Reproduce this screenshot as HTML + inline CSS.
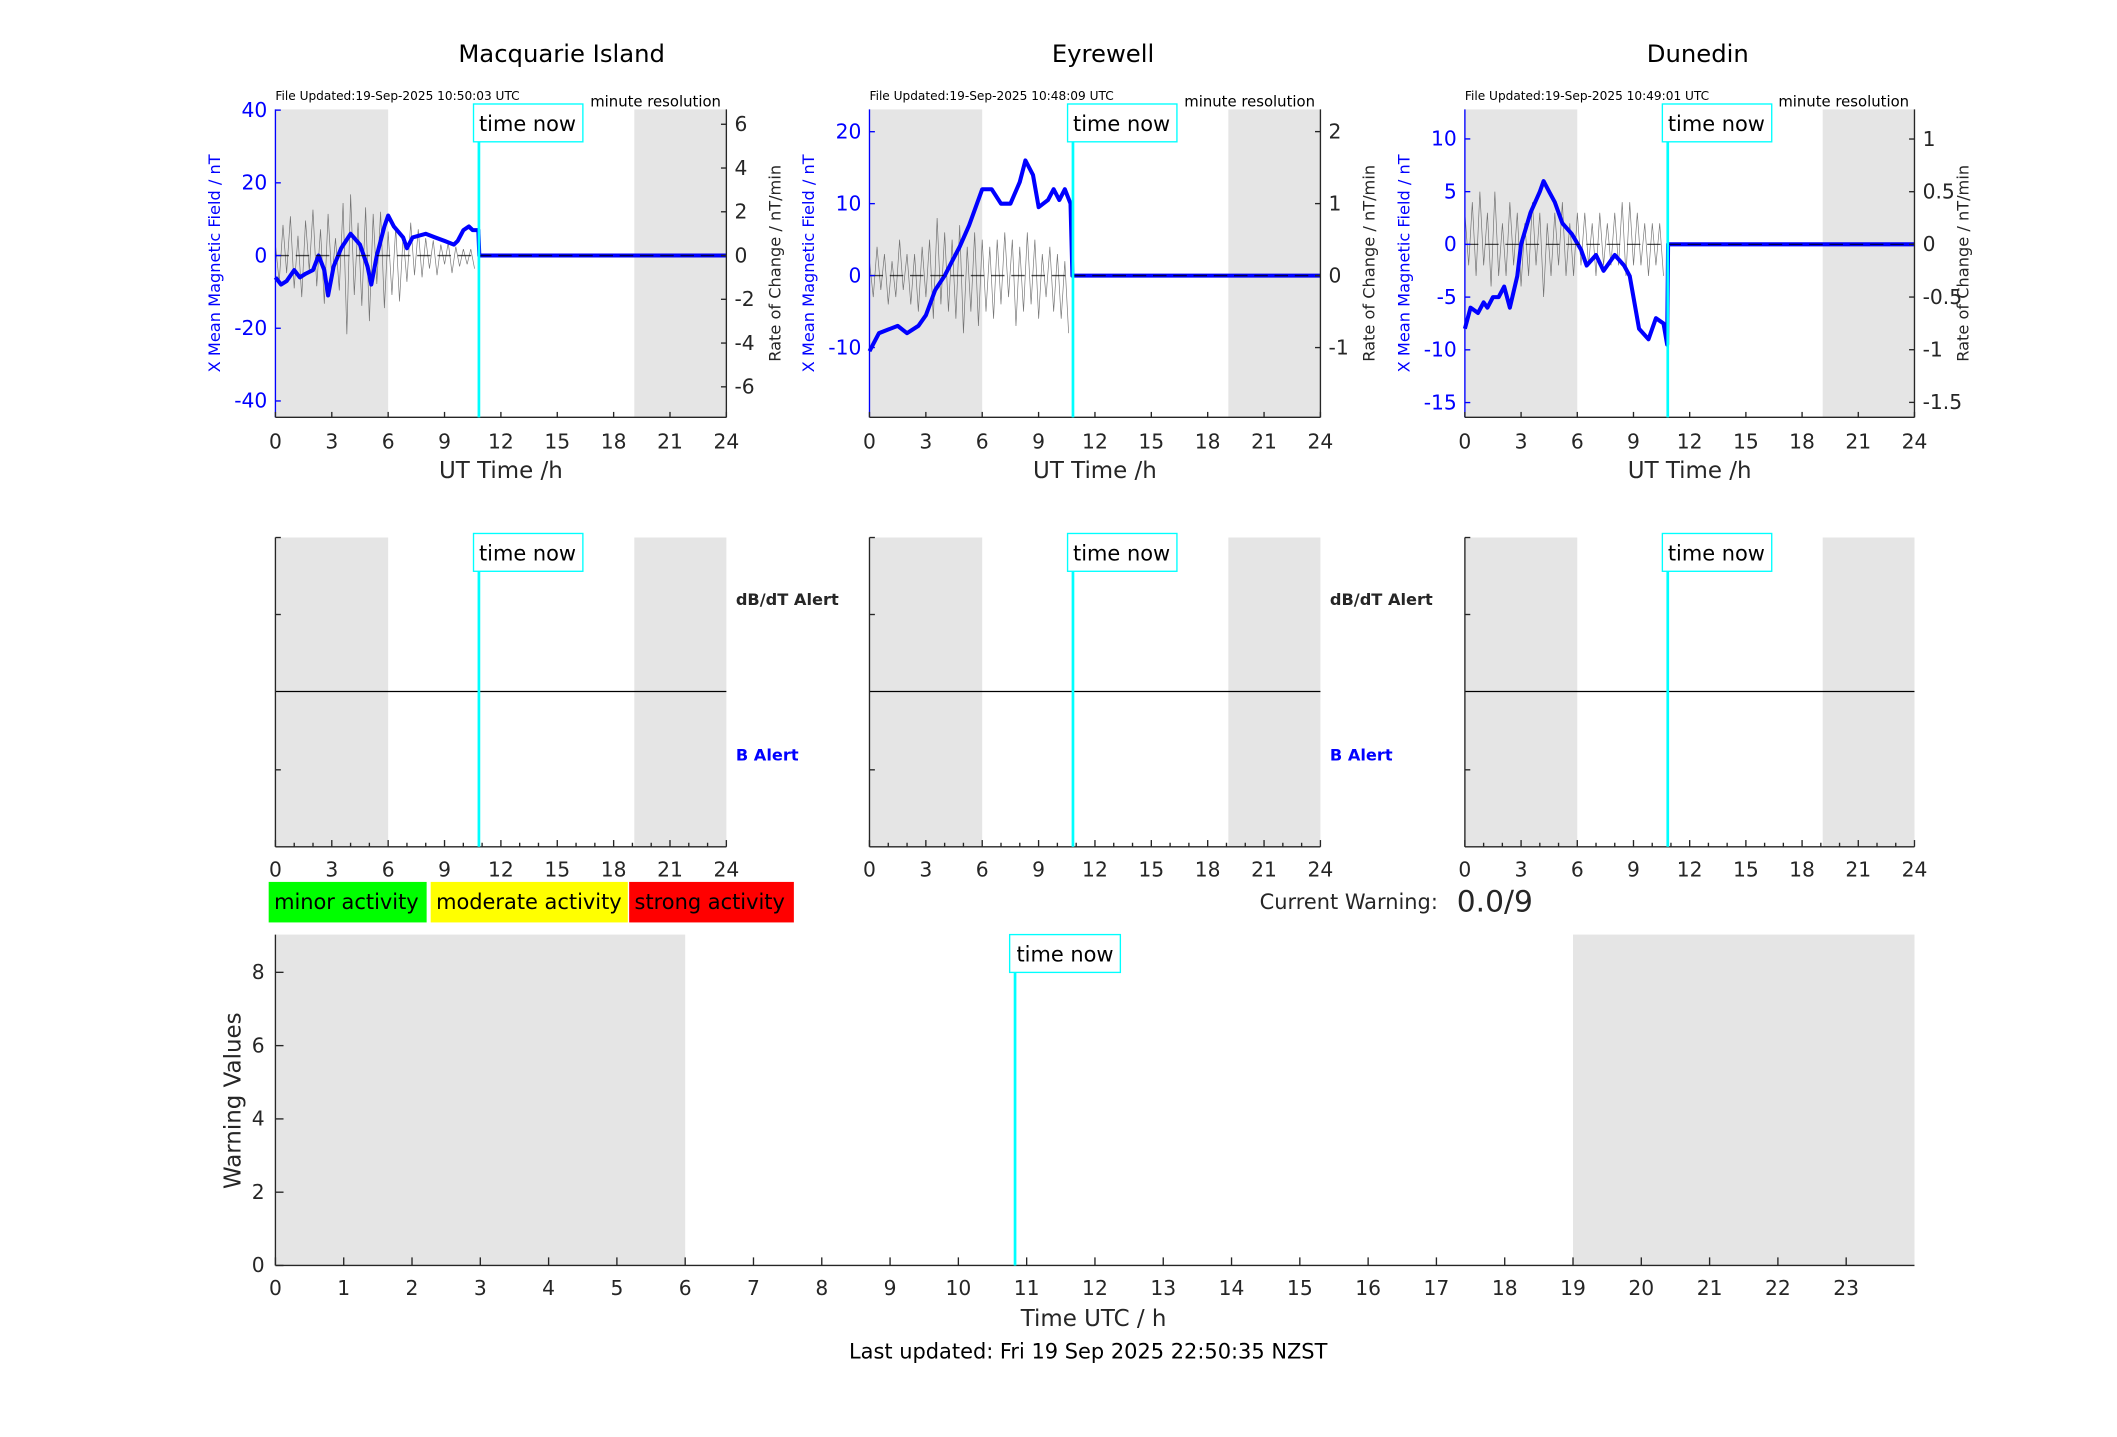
<!DOCTYPE html>
<html><head><meta charset="utf-8"><style>
html,body{margin:0;padding:0;background:#fff}
svg{display:block;font-family:"DejaVu Sans","Liberation Sans",sans-serif}
</style></head><body>
<svg id="chart" xmlns="http://www.w3.org/2000/svg" width="2117" height="1437" viewBox="0 0 1568 1064" preserveAspectRatio="none"></svg>
<script>
// ---------- DATA ----------
const stations = ["Macquarie Island", "Eyrewell", "Dunedin"];
const titleOffsets = [45, 6, 6];
const fileUpdated = ["File Updated:19-Sep-2025 10:50:03 UTC","File Updated:19-Sep-2025 10:48:09 UTC","File Updated:19-Sep-2025 10:49:01 UTC"];
const leftTicks1 = [40,20,0,-20,-40];
const rightTicks1 = [6,4,2,0,-2,-4,-6];
const leftTicks2 = [20,10,0,-10];
const rightTicks2 = [2,1,0,-1];
const leftTicks3 = [10,5,0,-5,-10,-15];
const rightTicks3 = [1,0.5,0,-0.5,-1,-1.5];
const xTicks = [0,3,6,9,12,15,18,21,24];
const bottomXTicks = [0,1,2,3,4,5,6,7,8,9,10,11,12,13,14,15,16,17,18,19,20,21,22,23];
const bottomYTicks = [0,2,4,6,8];
const timeNow = 10.83;
const nightEnd = 6, nightStart = 19.1;

const blueT1 = [0,0.3,0.6,1,1.3,1.6,2,2.3,2.6,2.8,3.1,3.5,4,4.5,4.9,5.1,5.4,5.8,6,6.3,6.8,7,7.3,8,8.5,9,9.5,9.7,10,10.3,10.5,10.8,10.85];
const blueV1 = [-6,-8,-7,-4,-6,-5,-4,0,-4,-11,-3,2,6,3,-3,-8,0,8,11,8,5,2,5,6,5,4,3,4,7,8,7,7,0];
const blueT2 = [0,0.5,1,1.5,2,2.6,3,3.5,4,4.5,4.8,5.3,6,6.5,7,7.5,8,8.3,8.7,9,9.5,9.8,10.1,10.4,10.7,10.8];
const blueV2 = [-10.5,-8,-7.5,-7,-8,-7,-5.5,-2,0,2.5,4,7,12,12,10,10,13,16,14,9.5,10.5,12,10.5,12,10,0];
const blueT3 = [0,0.3,0.7,1,1.2,1.5,1.8,2.1,2.4,2.8,3,3.5,4,4.2,4.5,4.8,5.2,5.7,6.2,6.5,7,7.4,8,8.5,8.8,9.3,9.8,10.2,10.6,10.8,10.85];
const blueV3 = [-8,-6,-6.5,-5.5,-6,-5,-5,-4,-6,-3,0,3,5,6,5,4,2,1,-0.5,-2,-1,-2.5,-1,-2,-3,-8,-9,-7,-7.5,-9.5,0];

const roc1 = [0.5,-1.2,1.4,-0.8,1.8,-1.5,0.9,-1.9,1.6,-0.7,2.1,-1.4,1.2,-2.2,1.9,-1.1,0.8,-1.6,2.4,-3.6,2.8,-1.8,1.5,-2.3,2.2,-3.0,1.9,-1.3,2.0,-2.4,1.1,-1.8,1.3,-2.1,0.9,-1.2,1.5,-0.9,1.2,-1.0,0.8,-0.6,0.7,-0.9,0.5,-0.4,0.6,-0.8,0.4,-0.5,0.3,-0.4,0.3,-0.6];
const roc2 = [0.2,-0.3,0.4,-0.2,0.3,-0.4,0.2,-0.3,0.5,-0.2,0.3,-0.4,0.3,-0.5,0.4,-0.3,0.5,-0.6,0.8,-0.4,0.6,-0.5,0.5,-0.6,0.7,-0.8,0.4,-0.5,0.6,-0.7,0.5,-0.5,0.4,-0.6,0.5,-0.4,0.6,-0.3,0.5,-0.7,0.4,-0.5,0.6,-0.4,0.5,-0.6,0.3,-0.3,0.4,-0.5,0.3,-0.6,0.2,-0.8];
const roc3 = [0.3,-0.2,0.4,-0.3,0.5,-0.2,0.3,-0.4,0.5,-0.3,0.2,-0.3,0.4,-0.2,0.3,-0.4,0.2,-0.3,0.4,-0.2,0.3,-0.5,0.2,-0.3,0.3,-0.2,0.4,-0.3,0.2,-0.3,0.3,-0.2,0.3,-0.2,0.2,-0.3,0.3,-0.2,0.2,-0.2,0.3,-0.2,0.4,-0.3,0.4,-0.2,0.3,-0.2,0.2,-0.3,0.2,-0.2,0.2,-0.3];

// ---------- HELPERS ----------
const NS = "http://www.w3.org/2000/svg";
const svg = document.getElementById("chart");
function mk(tag, attrs, parent, text){
  const e = document.createElementNS(NS, tag);
  for (const k in attrs) e.setAttribute(k, attrs[k]);
  if (text !== undefined) e.textContent = text;
  (parent || svg).appendChild(e);
  return e;
}

const panels = [
  {x0:204,x1:538,yTop:81,yBot:309,lmin:-44.5,lmax:40.2, lt:leftTicks1, rt:rightTicks1, bt:blueT1, bv:blueV1, roc:roc1},
  {x0:644,x1:978,yTop:81,yBot:309,lmin:-19.7,lmax:23.1, lt:leftTicks2, rt:rightTicks2, bt:blueT2, bv:blueV2, roc:roc2},
  {x0:1085,x1:1418,yTop:81,yBot:309,lmin:-16.4,lmax:12.8, lt:leftTicks3, rt:rightTicks3, bt:blueT3, bv:blueV3, roc:roc3}
];
const rPx = [16.2, 53.3, 78];

panels.forEach((p, i) => {
  const W = p.x1 - p.x0, H = p.yBot - p.yTop;
  const xs = t => p.x0 + W * t / 24;
  const ys = v => p.yTop + H * (p.lmax - v) / (p.lmax - p.lmin);
  const y0 = ys(0);
  const yr = v => y0 - v * rPx[i];
  const g = mk("g", {});
  
  
  const cx = (p.x0 + p.x1) / 2;
  const title = mk("text", {x:cx+titleOffsets[i], y:46, "font-size":18, "text-anchor":"middle"}, g, stations[i]);
  
  
  mk("rect", {x:xs(0), y:p.yTop, width:xs(nightEnd)-xs(0), height:H, fill:"#e5e5e5"}, g);
  mk("rect", {x:xs(nightStart), y:p.yTop, width:xs(24)-xs(nightStart), height:H, fill:"#e5e5e5"}, g);
  const fu = mk("text", {x:p.x0, y:74, "font-size":9}, g, fileUpdated[i]);
  
  
  const mr = mk("text", {x:p.x1-4, y:79, "font-size":11, "text-anchor":"end"}, g, "minute resolution");
  
  
  let d = "";
  p.roc.forEach((v, k) => { const t = k * 0.2; d += (k ? "L" : "M") + xs(t).toFixed(1) + "," + yr(v).toFixed(1); });
  const roc = mk("path", {d:d, fill:"none", stroke:"#555", "stroke-width":0.5, opacity:0.8}, g);
  
  
  d = "";
  p.bt.forEach((t, k) => { d += (k ? "L" : "M") + xs(t).toFixed(1) + "," + ys(p.bv[k]).toFixed(1); });
  d += "L" + xs(24) + "," + y0.toFixed(1);
  const bl = mk("path", {d:d, fill:"none", stroke:"#0000ff", "stroke-width":3, "stroke-linejoin":"round"}, g);
  
  
  mk("line", {x1:p.x0, x2:p.x1, y1:y0, y2:y0, stroke:"#000", "stroke-width":1, "stroke-dasharray":"10,5", opacity:0.7}, g);
  mk("line", {x1:p.x0, x2:p.x0, y1:p.yTop, y2:p.yBot, stroke:"#0000ff", "stroke-width":1}, g);
  mk("line", {x1:p.x1, x2:p.x1, y1:p.yTop, y2:p.yBot, stroke:"#262626", "stroke-width":1}, g);
  mk("line", {x1:p.x0, x2:p.x1, y1:p.yBot, y2:p.yBot, stroke:"#262626", "stroke-width":1}, g);
  p.lt.forEach(v => {
    const y = ys(v);
    mk("line", {x1:p.x0, x2:p.x0+4, y1:y, y2:y, stroke:"#0000ff"}, g);
    const t = mk("text", {x:p.x0-6, y:y+5, "font-size":15, fill:"#0000ff", "text-anchor":"end"}, g, String(v));
    
    
  });
  p.rt.forEach(v => {
    const y = yr(v);
    mk("line", {x1:p.x1-4, x2:p.x1, y1:y, y2:y, stroke:"#262626"}, g);
    const t = mk("text", {x:p.x1+6, y:y+5, "font-size":15, fill:"#262626"}, g, String(v));
    
    
  });
  xTicks.forEach(v => {
    const x = xs(v);
    mk("line", {x1:x, x2:x, y1:p.yBot, y2:p.yBot-4, stroke:"#262626"}, g);
    const t = mk("text", {x:x, y:p.yBot+23, "font-size":15, fill:"#262626", "text-anchor":"middle"}, g, String(v));
    
    
  });
  const xl = mk("text", {x:cx, y:354, "font-size":17, fill:"#262626", "text-anchor":"middle"}, g, "UT Time /h");
  
  
  const yl = mk("text", {x:0, y:0, "font-size":12, fill:"#0000ff", "text-anchor":"middle", transform:`translate(${p.x0-41},195) rotate(-90)`}, g, "X Mean Magnetic Field / nT");
  
  
  const rl = mk("text", {x:0, y:0, "font-size":12, fill:"#262626", "text-anchor":"middle", transform:`translate(${p.x1+40},195) rotate(-90)`}, g, "Rate of Change / nT/min");
  
  
  const tx = xs(timeNow);
  mk("line", {x1:tx, x2:tx, y1:p.yTop+22, y2:p.yBot, stroke:"#00ffff", "stroke-width":2}, g);
  mk("rect", {x:tx-4, y:77, width:81, height:28, fill:"#fff", stroke:"#00ffff", "stroke-width":1}, g);
  const tn = mk("text", {x:tx+36, y:97, "font-size":15.5, "text-anchor":"middle"}, g, "time now");
  
  

  const aT = 398, aB = 627, aH = aB - aT;
  const ga = mk("g", {});
  
  
  mk("rect", {x:xs(0), y:aT, width:xs(nightEnd)-xs(0), height:aH, fill:"#e5e5e5"}, ga);
  mk("rect", {x:xs(nightStart), y:aT, width:xs(24)-xs(nightStart), height:aH, fill:"#e5e5e5"}, ga);
  mk("line", {x1:p.x0, x2:p.x1, y1:512, y2:512, stroke:"#000", "stroke-width":1}, ga);
  mk("line", {x1:p.x0, x2:p.x0, y1:aT, y2:aB, stroke:"#262626"}, ga);
  mk("line", {x1:p.x0, x2:p.x1, y1:aB, y2:aB, stroke:"#262626"}, ga);
  [aT, 455, 570].forEach(y => mk("line", {x1:p.x0, x2:p.x0+4, y1:y, y2:y, stroke:"#262626"}, ga));
  for (let h = 0; h <= 24; h++) {
    const x = xs(h);
    mk("line", {x1:x, x2:x, y1:aB, y2:aB-(h%3===0?5:3), stroke:"#262626"}, ga);
  }
  xTicks.forEach(v => {
    const t = mk("text", {x:xs(v), y:aB+22, "font-size":15, fill:"#262626", "text-anchor":"middle"}, ga, String(v));
    
    
  });
  mk("line", {x1:tx, x2:tx, y1:aT+22, y2:aB, stroke:"#00ffff", "stroke-width":2}, ga);
  mk("rect", {x:tx-4, y:395, width:81, height:28, fill:"#fff", stroke:"#00ffff"}, ga);
  const tn2 = mk("text", {x:tx+36, y:415, "font-size":15.5, "text-anchor":"middle"}, ga, "time now");
  
  
  if (i < 2) {
    const a1 = mk("text", {x:p.x1+7, y:448, "font-size":12, "font-weight":"bold", fill:"#262626"}, ga, "dB/dT Alert");
    
    
    const a2 = mk("text", {x:p.x1+7, y:563, "font-size":12, "font-weight":"bold", fill:"#0000ff"}, ga, "B Alert");
    
    
  }
});

const legendItems = [["minor activity","#00ff00",199,117],["moderate activity","#ffff00",319,146],["strong activity","#ff0000",466,122]];
legendItems.forEach(li => {
  const g = mk("g", {});
  
  
  mk("rect", {x:li[2], y:653, width:li[3], height:30, fill:li[1]}, g);
  mk("text", {x:li[2]+4, y:673, "font-size":15.5}, g, li[0]);
});
const cw = mk("text", {x:1065, y:673, "font-size":15.5, "text-anchor":"end", fill:"#262626"}, svg, "Current Warning:");


const cv = mk("text", {x:1079, y:675, "font-size":22, fill:"#262626"}, svg, "0.0/9");



(function(){
  const x0 = 204, x1 = 1418, yT = 692, yB = 937, ymax = 9.03;
  const xs = t => x0 + (x1 - x0) * t / 24;
  const ys = v => yB - (yB - yT) * v / ymax;
  const g = mk("g", {});
  
  
  mk("rect", {x:xs(0), y:yT, width:xs(6)-xs(0), height:yB-yT, fill:"#e5e5e5"}, g);
  mk("rect", {x:xs(19), y:yT, width:xs(24)-xs(19), height:yB-yT, fill:"#e5e5e5"}, g);
  mk("line", {x1:x0, x2:x0, y1:yT, y2:yB, stroke:"#262626"}, g);
  mk("line", {x1:x0, x2:x1, y1:yB, y2:yB, stroke:"#262626"}, g);
  bottomXTicks.forEach(v => {
    const x = xs(v);
    mk("line", {x1:x, x2:x, y1:yB, y2:yB-6, stroke:"#262626"}, g);
    const t = mk("text", {x:x, y:yB+22, "font-size":15, fill:"#262626", "text-anchor":"middle"}, g, String(v));
    
    
  });
  bottomYTicks.forEach(v => {
    const y = ys(v);
    mk("line", {x1:x0, x2:x0+6, y1:y, y2:y, stroke:"#262626"}, g);
    const t = mk("text", {x:x0-8, y:y+5, "font-size":15, fill:"#262626", "text-anchor":"end"}, g, String(v));
    
    
  });
  const tx = xs(timeNow);
  mk("line", {x1:tx, x2:tx, y1:yT+28, y2:yB, stroke:"#00ffff", "stroke-width":2}, g);
  mk("rect", {x:tx-4, y:692, width:82, height:28, fill:"#fff", stroke:"#00ffff"}, g);
  const tn = mk("text", {x:tx+37, y:712, "font-size":15.5, "text-anchor":"middle"}, g, "time now");
  
  
  const xl = mk("text", {x:810, y:982, "font-size":17, fill:"#262626", "text-anchor":"middle"}, g, "Time UTC / h");
  
  
  const yl = mk("text", {x:0, y:0, "font-size":17, fill:"#262626", "text-anchor":"middle", transform:"translate(178,815) rotate(-90)"}, g, "Warning Values");
  
  
  const lu = mk("text", {x:806, y:1006, "font-size":15.5, fill:"#000", "text-anchor":"middle"}, g, "Last updated: Fri 19 Sep 2025 22:50:35 NZST");
  
  
})();
</script>
</body></html>
